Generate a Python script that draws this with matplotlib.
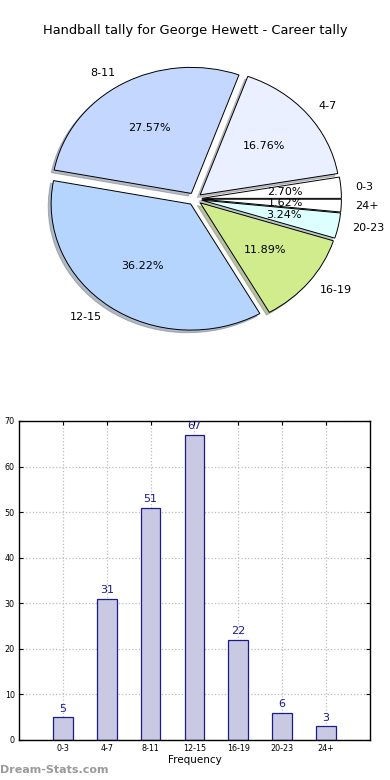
import numpy as np
import matplotlib
matplotlib.use("Agg")
import matplotlib.pyplot as plt

# data
categories = ["0-3", "4-7", "8-11", "12-15", "16-19", "20-23", "24+"]
counts = [5, 31, 51, 67, 22, 6, 3]
slice_colors = ["#ffffff", "#eaf0ff", "#c4d8ff", "#b5d5ff", "#d0ec8c", "#ddffff", "#ffffff"]
y_ticks = [0, 10, 20, 30, 40, 50, 60, 70]

TITLE = "Handball tally for George Hewett - Career tally"

fig = plt.figure(figsize=(3.9, 7.8), dpi=100, facecolor="white")

# --- pie (elliptical like the old renderer) ---
ax_pie = fig.add_axes([0.052, 0.543, 0.895, 0.404])
wedges, texts, autotexts = ax_pie.pie(
    counts, labels=categories, colors=slice_colors,
    explode=[0.05] * len(counts), autopct="%1.2f%%",
    shadow={"ox": -0.015, "oy": -0.015, "shade": 0.45},
    startangle=0, counterclock=True,
    wedgeprops={"edgecolor": "black", "linewidth": 0.7},
    textprops={"fontsize": 8},
)
ax_pie.set_aspect("auto")
ax_pie.set_xlim(-1.25, 1.25)
ax_pie.set_ylim(-1.25, 1.25)
fig.text(0.5, 0.961, TITLE, ha="center", va="center", fontsize=9.4)

# --- bar chart ---
ax = fig.add_axes([0.0487, 0.0513, 0.9, 0.409])
x = np.arange(1, len(categories) + 1)
ax.bar(x, counts, width=0.45, color="#c9c9e3", edgecolor="#1a1a8c", linewidth=0.9, zorder=2)
for xi, c in zip(x, counts):
    ax.text(xi, c + 0.8, str(c), ha="center", va="bottom", fontsize=8, color="#1a1a99")

ax.set_xlim(0, len(categories) + 1)
ax.set_ylim(0, 70)
ax.set_xticks(x)
ax.set_xticklabels(categories, fontsize=5.8)
ax.set_yticks(y_ticks)
ax.tick_params(axis="y", labelsize=5.8)
ax.tick_params(direction="in", length=3, top=True, right=True, pad=3)
ax.grid(True, linestyle=":", color="#bdbdbd", linewidth=0.9, zorder=0)
ax.set_axisbelow(True)
for s in ax.spines.values():
    s.set_linewidth(1.0)
ax.set_xlabel("Frequency", fontsize=7.5, labelpad=1)

fig.text(0.0, 0.013, "Dream-Stats.com", ha="left", va="center",
         fontsize=8, color="#9a9a9a", fontweight="bold")

fig.savefig("out.png", dpi=100, facecolor="white")
